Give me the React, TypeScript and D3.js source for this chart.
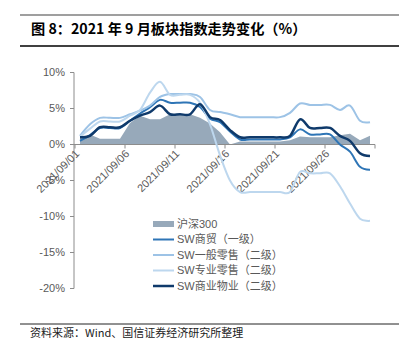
import React from "react";
import * as d3 from "d3";

const days = d3.range(1, 31);
const tickDays = [1, 6, 11, 16, 21, 26];
const tickLabels = ["2021/09/01", "2021/09/06", "2021/09/11", "2021/09/16", "2021/09/21", "2021/09/26"];
const yTicks = [10, 5, 0, -5, -10, -15, -20];

const hs300 = [1.0, 1.4, 0.8, 0.8, 0.8, 3.0, 4.0, 3.5, 3.5, 4.2, 4.2, 4.2, 3.7, 2.9, 1.7, 0.0, 0.4, 0.4, 0.4, 0.4, 0.4, 0.6, 1.1, 1.0, 1.0, 1.0, 1.3, 1.5, 0.6, 1.2];
const swTrade = [0.5, 1.3, 2.3, 2.3, 2.3, 3.3, 4.3, 5.2, 6.2, 5.8, 5.8, 5.8, 5.2, 3.6, 3.1, 1.8, 0.7, 0.7, 0.7, 0.7, 0.7, 1.0, 2.1, 1.4, 1.4, 1.4, 0.0, -1.0, -3.1, -3.5];
const swGeneral = [1.2, 2.8, 3.7, 3.7, 3.7, 4.2, 4.7, 5.4, 6.6, 7.0, 7.0, 7.0, 6.6, 4.8, 4.5, 4.2, 3.8, 3.8, 3.8, 3.8, 3.8, 4.4, 5.7, 5.5, 5.5, 5.5, 4.8, 5.4, 3.3, 3.1];
const swSpecial = [1.1, 2.2, 3.2, 3.2, 3.2, 4.0, 4.8, 7.2, 8.7, 6.9, 6.9, 6.9, 5.8, 2.8, -1.5, -5.0, -6.6, -6.6, -6.6, -6.6, -6.6, -6.6, -3.8, -4.0, -4.0, -4.0, -5.8, -8.2, -10.3, -10.6];
const swProperty = [1.0, 1.2, 2.4, 2.4, 2.4, 3.3, 4.0, 4.5, 5.4, 4.2, 4.2, 4.2, 5.6, 3.8, 3.4, 2.0, 1.0, 1.0, 1.0, 1.0, 1.0, 1.2, 3.5, 2.3, 2.3, 2.3, 1.2, 0.5, -1.2, -1.6];

const legendNames = ["沪深300", "SW商贸（一级）", "SW一般零售（二级）", "SW专业零售（二级）", "SW商业物业（二级）"];
const colors = ["#97a9ba", "#2e75b6", "#9dc3e6", "#bdd7ee", "#0f3a6b"];

const W = 417, H = 338;
const FONT = "Arial, 'Liberation Sans', 'Noto Sans CJK SC', sans-serif";

export default function App() {
  const x = d3.scaleLinear().domain([0.5, 30.5]).range([75, 375]);
  const y = d3.scaleLinear().domain([10, -20]).range([72.5, 288.5]);

  const area = d3.area<number>()
    .x((_, i) => x(days[i]))
    .y0(y(0))
    .y1((d) => y(d));
  const line = d3.line<number>()
    .x((_, i) => x(days[i]))
    .y((d) => y(d))
    .curve(d3.curveCardinal.tension(0));

  const series = [swTrade, swGeneral, swSpecial, swProperty];
  const axisColor = "#8c8c8c";
  const textColor = "#595959";
  const legendY = [224, 239.5, 255, 270.5, 286];

  return (
    <svg width={W} height={H} style={{ position: "absolute", left: 0, top: 0, background: "#fff" }} fontFamily={FONT}>
      <line x1={20} x2={399} y1={15} y2={15} stroke="#7f7f7f" strokeWidth={1.5} />
      <text x={31} y={34} fontSize={14.2} fontWeight="bold" fill="#000" fontFamily="'Noto Sans CJK SC', Arial, sans-serif">
        图 8：2021 年 9 月板块指数走势变化（%）
      </text>
      <line x1={20} x2={399} y1={46} y2={46} stroke="#000" strokeWidth={1.5} />

      <path d={area(hs300) || ""} fill={colors[0]} />

      {/* y axis */}
      <line x1={74} x2={74} y1={y(10)} y2={y(-20)} stroke={axisColor} strokeWidth={1} />
      {yTicks.map((t) => (
        <g key={t}>
          <line x1={70} x2={74} y1={y(t)} y2={y(t)} stroke={axisColor} />
          <text x={65} y={y(t)} dy="0.35em" textAnchor="end" fontSize={11} fill={textColor}>{t}%</text>
        </g>
      ))}

      {/* x axis */}
      <line x1={74} x2={375} y1={y(0)} y2={y(0)} stroke={axisColor} strokeWidth={1} />
      {[...tickDays, 31].map((d) => (
        <line key={d} x1={x(d - 0.5)} x2={x(d - 0.5)} y1={y(0)} y2={y(0) + 4} stroke={axisColor} />
      ))}
      {tickDays.map((d, i) => {
        const tx = x(d - 0.5) + 5;
        const ty = y(0) + 10;
        return (
          <text key={d} x={tx} y={ty} textAnchor="end" fontSize={11} fill={textColor} transform={`rotate(-45 ${tx} ${ty})`}>
            {tickLabels[i]}
          </text>
        );
      })}

      {series.map((s, i) => (
        <path key={i} d={line(s) || ""} fill="none" stroke={colors[i + 1]} strokeWidth={i === 3 ? 2.5 : 2} />
      ))}

      {/* legend */}
      {legendNames.map((n, i) => (
        <g key={n}>
          {i === 0 ? (
            <rect x={153} y={legendY[i] - 3} width={21} height={6} fill={colors[0]} />
          ) : (
            <line x1={153} x2={174} y1={legendY[i]} y2={legendY[i]} stroke={colors[i]} strokeWidth={i === 4 ? 2.5 : 2} />
          )}
          <text x={177} y={legendY[i]} dy="0.35em" fontSize={11} fill={textColor}>{n}</text>
        </g>
      ))}

      <line x1={20} x2={399} y1={324} y2={324} stroke="#222" strokeWidth={1} />
      <text x={30} y={336.5} fontSize={11} fill="#222" fontFamily="'Noto Sans CJK SC', Arial, sans-serif">
        资料来源：Wind、国信证券经济研究所整理
      </text>
    </svg>
  );
}
